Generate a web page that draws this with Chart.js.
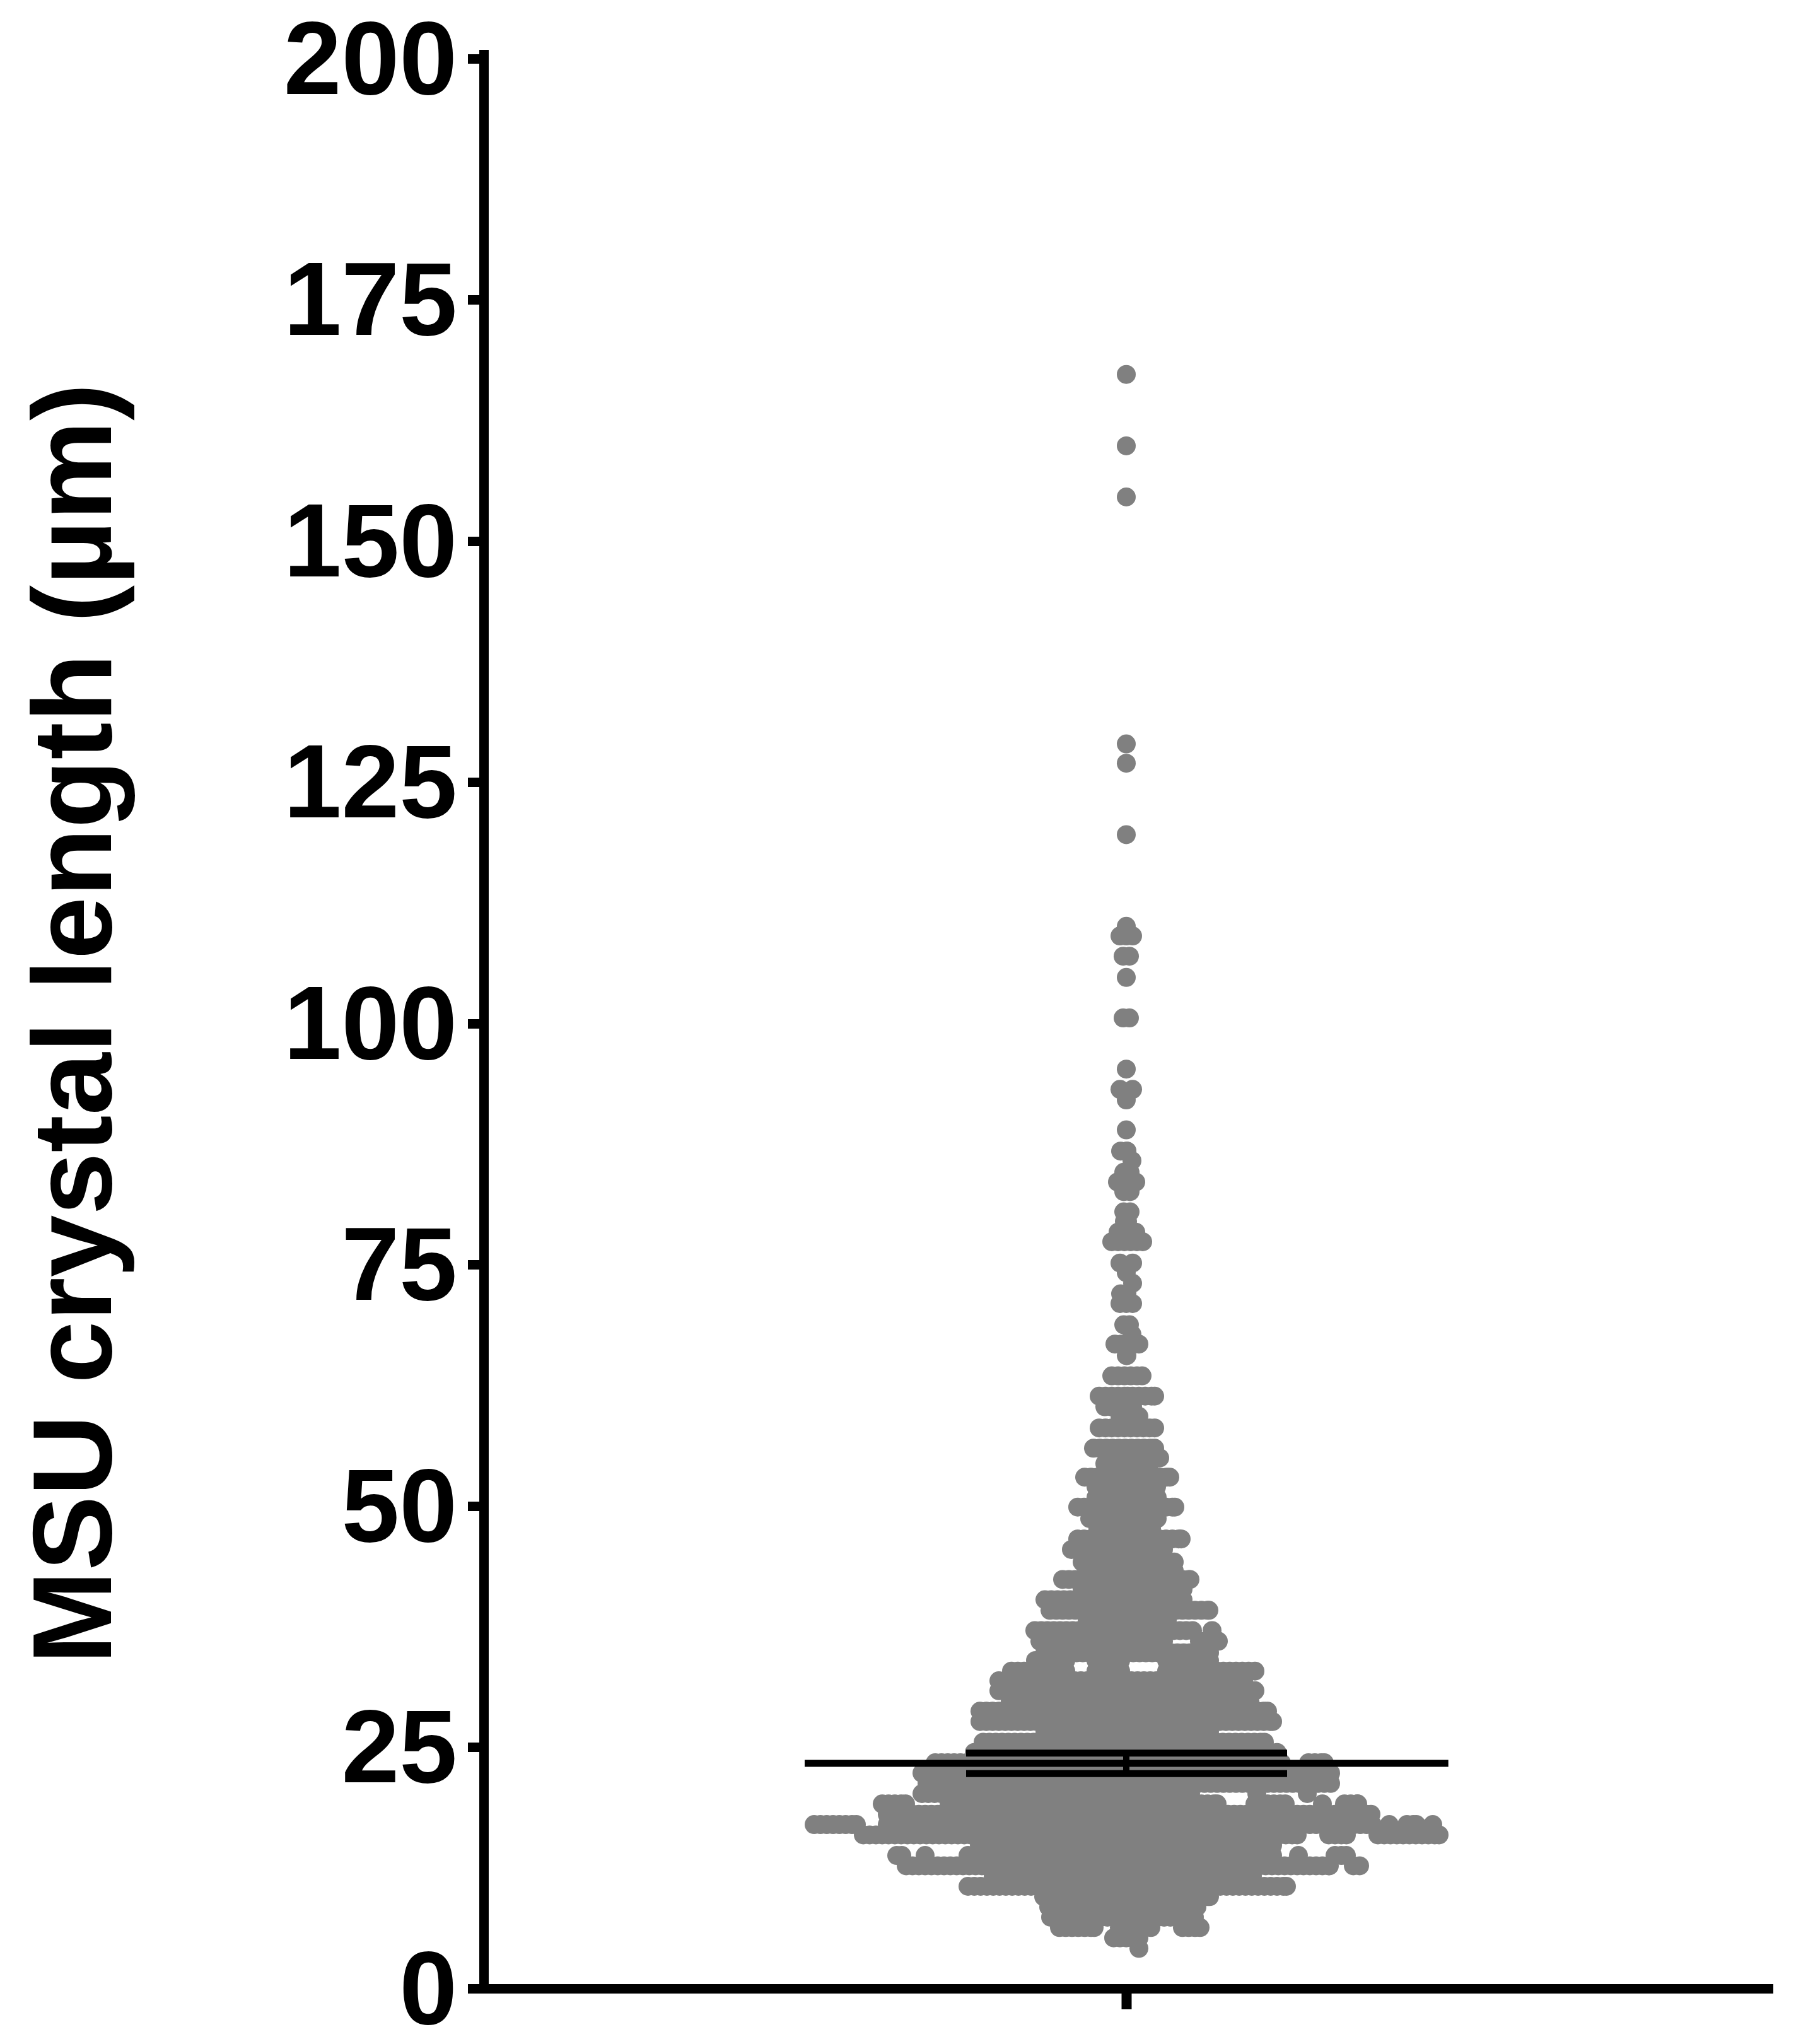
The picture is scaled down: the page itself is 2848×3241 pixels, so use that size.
<!DOCTYPE html>
<html lang="en">

<head>
  <meta charset="UTF-8" />
  <title>MSU crystal length</title>
  <script src="https://cdn.jsdelivr.net/npm/chart.js"></script>
  <style>
    body {
      margin: 0;
      background: white;
    }

    canvas {
      display: block;
    }
  </style>
</head>

<body>
  <canvas id="swarmChart" width="2848" height="3241"></canvas>

  <script>
    const yTicks = [0, 25, 50, 75, 100, 125, 150, 175, 200];
    const xTicks = [0];
    const yTitle = "MSU crystal length (\u00b5m)";

    // crystal lengths read row by row off the swarm, top to bottom (um)
    const rowValues = [
      167.3, 159.9, 154.6, 129, 127, 119.6, 110.1, 109.1, 107, 104.8, 100.6,
      95.3, 93.2, 92.1, 89, 86.8, 85.8, 84.6, 83.6, 82.6, 80.5, 79.5, 78.4, 77.4,
      75.2, 74.2, 73.1, 72, 71, 68.8, 67.8, 66.8, 65.6, 63.5, 61.4, 60.3, 59.3,
      58.1, 56, 55, 54.4, 53, 52, 50.9, 49.9, 48.7, 47.7, 46.6, 45.5, 44.2, 43.3,
      42.4, 41.4, 40.3, 39.2, 38.2, 37.1, 36, 34.8, 34, 32.9, 31.9, 30.87, 29.8,
      28.74, 27.67, 26.6, 25.53, 24.47, 23.4, 22.33, 21.26, 20.2, 19.13, 18.06,
      16.99, 15.92, 14.86, 13.79, 12.72, 11.66, 10.59, 9.52, 8.45, 7.39, 6.32,
      5.25, 4.16
    ];

    // occupied stretches of each row, [first, last] slot either side of the column centre
    const rowSlots = [
      [[0, 0]], [[0, 0]], [[0, 0]], [[0, 0]], [[0, 0]], [[0, 0]], [[0, 0]], [[-1, 1]], [[-0.5, 0.5]], [[0, 0]], [[-0.5, 0.5]],
      [[0, 0]], [[-1, -1], [1, 1]], [[0, 0]], [[0, 0]], [[-0.9, 0.1]], [[0.9, 0.9]], [[-0.4, 0.6]], [[-1.4, 1.5]], [[-0.4, 0.6]], [[-0.4, 0.6]], [[-0.3, 0.2]], [[-1.3, 1.5]], [[-2.3, 2.6]],
      [[-1, -1], [1, 1]], [[0, 0]], [[1, 1]], [[-0.9, 0.1]], [[-1, 1]], [[-0.4, 0.5]], [[0.9, 0.9]], [[-1.8, 2]], [[0, 0.1]], [[-2.3, 2.5]], [[-4.3, 0.2], [1, 4.5]], [[-3.4, 1]], [[-1, 2]],
      [[-4.3, 4.5]], [[-5.2, 4.5]], [[0, 5.3]], [[-3.4, 3.7]], [[-6.6, 6.9]], [[-4.8, 4.8]], [[-4.8, 4.9]], [[-7.7, 7.7]], [[-5.8, 4.9]], [[-4.5, 4]], [[-7.7, 8.7]], [[-8.7, 5.9]], [[-7, 7.6]], [[-6, 7.6]],
      [[-10.1, 10.1]], [[-7, 9]], [[-12.9, 9]], [[-12.1, 13.1]], [[-6.2, 6.5]], [[-14.5, 10.5], [13.6, 13.6]], [[-13.7, 5.9], [11.6, 14.6]], [[-12.9, 13.2]],
      [[-14.4, -9.6], [-4.8, -0.9], [6.4, 13.2]], [[-18.2, -9.6], [-4.8, -0.9], [6.4, 20.4]], [[-20.2, 18.6]], [[-20.2, 20.4]], [[-18.4, 19.6]],
      [[-23.2, 22.4]], [[-23.2, 23.2]], [[-12.9, 13.2]], [[-22.7, 21.9]], [[-24.1, 23.9]], [[-30.3, 24.6], [28.9, 31.4]], [[-32.4, 32.4]], [[-31.6, 32.4]],
      [[-32.4, 10.2], [20.7, 20.7], [28.7, 28.7]],
      [[-38.7, -35], [-28.1, 14.4], [20.4, 25.2], [31.1, 31.1], [34.6, 36.7]],
      [[-37.9, 38.8]],
      [[-49.5, -42.8], [-37.9, 39], [41.7, 41.7], [44.5, 46], [48.6, 48.6]],
      [[-41.7, 27.1], [32.1, 34.9], [39.9, 49.6]],
      [[-23.3, 23.2]],
      [[-36.4, -35.6], [-31.9, -31.9], [-25.1, 23.2], [27.3, 27.3], [33.1, 34.9]],
      [[-34.9, 32.2], [36, 37]],
      [[-21.1, 20]], [[-25.1, 25.4]], [[-13.1, 13.2]], [[-12.3, 11.2]], [[-12, 10.8]],
      [[-10.6, -5.1], [-1.1, 3.9], [8.9, 11.7]],
      [[-2, 2]], [[2, 2]]
    ];

    const meanValue = 23.33;
    const semUpper = 24.4;
    const semLower = 22.27;
    const meanSpan = [-51, 51.07];
    const capSpan = [-25.4, 25.5];

    // dots in a row sit one slot apart, as in the packed swarm
    const swarm = [];
    rowValues.forEach((value, i) => {
      rowSlots[i].forEach(([first, last]) => {
        for (let slot = first; slot < last; slot += 1) {
          swarm.push({ x: slot, y: value });
        }
        swarm.push({ x: last, y: value });
      });
    });

    function lineSet(data, width) {
      return {
        data: data,
        showLine: true,
        pointRadius: 0,
        borderColor: "#000000",
        borderWidth: width,
        order: 0
      };
    }

    const fontFamily = "'Liberation Sans', Arial, sans-serif";

    new Chart(document.getElementById("swarmChart").getContext("2d"), {
      type: "scatter",
      data: {
        datasets: [
          {
            data: swarm,
            pointRadius: 15,
            pointBorderWidth: 0,
            backgroundColor: "#808080",
            order: 1
          },
          lineSet([{ x: meanSpan[0], y: meanValue }, { x: meanSpan[1], y: meanValue }], 11),
          lineSet([{ x: capSpan[0], y: semUpper }, { x: capSpan[1], y: semUpper }], 11),
          lineSet([{ x: capSpan[0], y: semLower }, { x: capSpan[1], y: semLower }], 11),
          lineSet([{ x: 0, y: semLower }, { x: 0, y: semUpper }], 10)
        ]
      },
      options: {
        responsive: false,
        animation: false,
        layout: {
          padding: { top: 86, bottom: 80.5, right: 37, left: 0 }
        },
        plugins: {
          legend: { display: false },
          tooltip: { enabled: false }
        },
        scales: {
          x: {
            type: "linear",
            position: { y: 0 },
            min: -101.9,
            max: 102.5,
            afterBuildTicks: scale => {
              scale.ticks = xTicks.map(value => ({ value: value }));
            },
            afterFit: scale => {
              scale.height = 0;
              scale.paddingLeft = 0;
              scale.paddingRight = 0;
            },
            ticks: { display: false },
            border: { display: true, color: "#000000", width: 15 },
            grid: {
              drawOnChartArea: false,
              drawTicks: true,
              tickLength: 25,
              tickWidth: 16,
              tickColor: "#000000"
            }
          },
          y: {
            type: "linear",
            min: -0.49,
            max: 200.49,
            afterBuildTicks: scale => {
              scale.ticks = yTicks.map(value => ({ value: value }));
            },
            afterFit: scale => {
              // the big tick labels may overhang the plot, as in the original figure
              scale.width = 767;
              scale.paddingTop = 0;
              scale.paddingBottom = 0;
            },
            ticks: {
              color: "#000000",
              padding: 17,
              labelOffset: 10,
              autoSkip: false,
              font: { family: fontFamily, size: 165, weight: "bold", lineHeight: 1 }
            },
            title: {
              display: true,
              text: yTitle,
              color: "#000000",
              padding: { top: 38, bottom: 0 },
              font: { family: fontFamily, size: 178, weight: "bold", lineHeight: 1 }
            },
            border: { display: true, color: "#000000", width: 15 },
            grid: {
              drawOnChartArea: false,
              drawTicks: true,
              tickLength: 25,
              tickWidth: 15,
              tickColor: "#000000"
            }
          }
        }
      }
    });
  </script>
</body>

</html>
